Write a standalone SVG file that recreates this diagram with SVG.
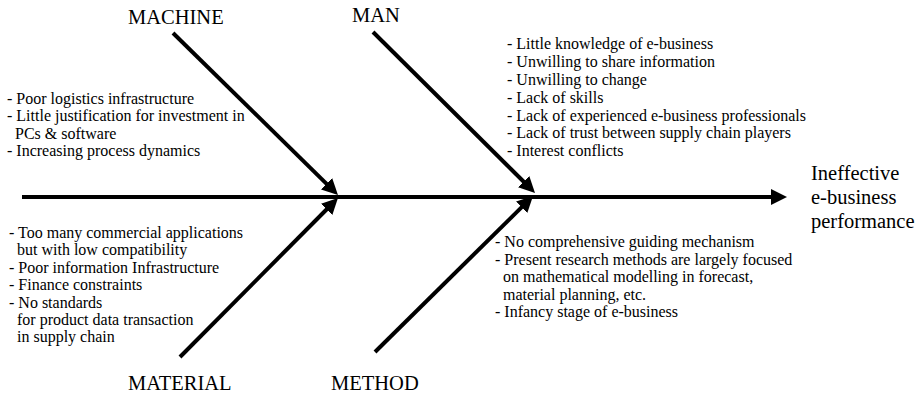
<svg xmlns="http://www.w3.org/2000/svg" width="919" height="394" viewBox="0 0 919 394">
<style>
  .lbl { font-family: "Liberation Serif", "Times New Roman", serif; font-size: 20.5px; fill: #000; }
  .item { font-family: "Liberation Serif", "Times New Roman", serif; font-size: 16px; fill: #000; }
  .bone { stroke: #000; stroke-width: 4; fill: none; marker-end: url(#ah); }
</style>
<defs>
  <marker id="ah" markerUnits="userSpaceOnUse" markerWidth="16" markerHeight="16" refX="4" refY="8" orient="auto" viewBox="0 0 16 16">
    <path d="M0,0 L16,8 L0,16 z" fill="#000"/>
  </marker>
</defs>
<rect width="919" height="394" fill="#fff"/>
<g id="connectors">
  <line class="bone" x1="22" y1="197" x2="775" y2="197"/>
  <line class="bone" x1="173" y1="33" x2="329.4" y2="186.6"/>
  <line class="bone" x1="373" y1="32" x2="526.5" y2="184.5"/>
  <line class="bone" x1="180" y1="357" x2="329.5" y2="206.5"/>
  <line class="bone" x1="375" y1="352" x2="524.5" y2="204.4"/>
</g>
<g id="machine">
  <text class="lbl" x="128" y="24">MACHINE</text>
  <text class="item" x="7" y="103.5">- Poor logistics infrastructure</text>
  <text class="item" x="7" y="121">- Little justification for investment in</text>
  <text class="item" x="15" y="138.5">PCs &amp; software</text>
  <text class="item" x="7" y="156">- Increasing process dynamics</text>
</g>
<g id="man">
  <text class="lbl" x="352" y="22">MAN</text>
  <text class="item" x="507" y="49">- Little knowledge of e-business</text>
  <text class="item" x="507" y="67">- Unwilling to share information</text>
  <text class="item" x="507" y="85">- Unwilling to change</text>
  <text class="item" x="507" y="102.5">- Lack of skills</text>
  <text class="item" x="507" y="120.5">- Lack of experienced e-business professionals</text>
  <text class="item" x="507" y="138">- Lack of trust between supply chain players</text>
  <text class="item" x="507" y="156">- Interest conflicts</text>
</g>
<g id="material">
  <text class="lbl" x="128" y="390">MATERIAL</text>
  <text class="item" x="9" y="238">- Too many commercial applications</text>
  <text class="item" x="17" y="255.4">but with low compatibility</text>
  <text class="item" x="9" y="272.8">- Poor information Infrastructure</text>
  <text class="item" x="9" y="290.2">- Finance constraints</text>
  <text class="item" x="9" y="307.6">- No standards</text>
  <text class="item" x="17" y="325">for product data transaction</text>
  <text class="item" x="17" y="342.4">in supply chain</text>
</g>
<g id="method">
  <text class="lbl" x="331" y="390">METHOD</text>
  <text class="item" x="495" y="247">- No comprehensive guiding mechanism</text>
  <text class="item" x="495" y="264.5">- Present research methods are largely focused</text>
  <text class="item" x="503" y="282">on mathematical modelling in forecast,</text>
  <text class="item" x="503" y="299.5">material planning, etc.</text>
  <text class="item" x="495" y="317">- Infancy stage of e-business</text>
</g>
<g id="effect">
  <text class="lbl" x="811" y="180">Ineffective</text>
  <text class="lbl" x="811" y="204">e-business</text>
  <text class="lbl" x="811" y="228">performance</text>
</g>
</svg>
